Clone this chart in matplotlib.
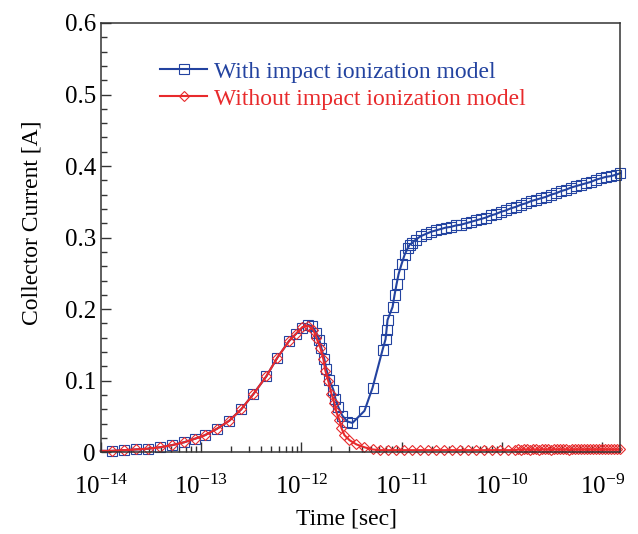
"""
Collector current transient, with and without the impact ionization model.
"""
import numpy as np
import matplotlib
matplotlib.use("Agg")
import matplotlib.pyplot as plt
import matplotlib.ticker as mticker

plt.rcParams["font.family"] = ["Liberation Serif", "DejaVu Serif"]
plt.rcParams["mathtext.fontset"] = "stix"

BLUE = "#2343a0"
RED = "#e82a2c"

# ── With impact ionization: log10(time [s]) and collector current [A] ─────────
with_log_t = [
    -14.00, -13.89, -13.77, -13.65, -13.53, -13.41, -13.29, -13.17, -13.06,
    -12.96, -12.84, -12.72, -12.60, -12.48, -12.35, -12.24, -12.12, -12.05,
    -11.99, -11.93, -11.89, -11.85, -11.82, -11.80, -11.77, -11.75, -11.72,
    -11.68, -11.66, -11.63, -11.59, -11.54, -11.49, -11.37, -11.29, -11.19,
    -11.16, -11.15, -11.14, -11.09, -11.07, -11.05, -11.03, -11.00, -10.97,
    -10.94, -10.92, -10.90,
    -10.86, -10.81, -10.76, -10.71, -10.66, -10.61, -10.56, -10.51, -10.46,
    -10.41, -10.36, -10.31, -10.26, -10.21, -10.16, -10.11, -10.06, -10.01,
    -9.96, -9.91, -9.86, -9.81, -9.76, -9.71, -9.66, -9.61, -9.56, -9.51,
    -9.46, -9.41, -9.36, -9.31, -9.26, -9.21, -9.16, -9.11, -9.06, -9.01,
    -8.96, -8.91, -8.86, -8.82,
]
with_current = [
    0.002, 0.002, 0.003, 0.004, 0.005, 0.007, 0.010, 0.014, 0.019,
    0.024, 0.033, 0.044, 0.060, 0.081, 0.106, 0.132, 0.156, 0.166,
    0.174, 0.178, 0.176, 0.167, 0.157, 0.146, 0.130, 0.116, 0.101,
    0.087, 0.075, 0.063, 0.051, 0.043, 0.041, 0.058, 0.090, 0.143,
    0.158, 0.171, 0.185, 0.203, 0.220, 0.235, 0.249, 0.263, 0.276,
    0.285, 0.290, 0.292,
    0.297, 0.302, 0.305, 0.308, 0.310, 0.312, 0.314, 0.315, 0.317,
    0.318, 0.320, 0.322, 0.324, 0.326, 0.328, 0.331, 0.333, 0.336,
    0.338, 0.341, 0.343, 0.346, 0.348, 0.351, 0.353, 0.355, 0.357, 0.360,
    0.362, 0.365, 0.367, 0.370, 0.372, 0.374, 0.376, 0.378, 0.381, 0.383,
    0.385, 0.386, 0.388, 0.390,
]

# ── Without impact ionization ─────────────────────────────────────────────────
without_log_t = [
    -14.00, -13.89, -13.77, -13.65, -13.53, -13.41, -13.29, -13.17, -13.06,
    -12.96, -12.84, -12.72, -12.60, -12.48, -12.35, -12.24, -12.12, -12.05,
    -11.99, -11.93, -11.88, -11.85, -11.81, -11.78, -11.76, -11.73, -11.70,
    -11.67, -11.65, -11.62, -11.60, -11.57, -11.52, -11.45, -11.37, -11.29,
    -11.22, -11.14, -11.06, -10.98, -10.90, -10.82, -10.74, -10.66, -10.58,
    -10.50, -10.42, -10.34, -10.26, -10.18, -10.10, -10.02, -9.94, -9.87,
    -9.84, -9.81, -9.78, -9.75, -9.72, -9.69, -9.66, -9.63, -9.60, -9.57,
    -9.54, -9.51, -9.48, -9.45, -9.42, -9.39, -9.36, -9.33, -9.30, -9.27,
    -9.24, -9.21, -9.18, -9.15, -9.12, -9.09, -9.06, -9.03, -9.00, -8.97,
    -8.94, -8.91, -8.88, -8.85, -8.82,
]
without_current = [
    0.002, 0.002, 0.003, 0.004, 0.005, 0.007, 0.010, 0.014, 0.019,
    0.024, 0.033, 0.044, 0.060, 0.081, 0.106, 0.132, 0.156, 0.166,
    0.175, 0.177, 0.171, 0.160, 0.146, 0.130, 0.114, 0.099, 0.082,
    0.069, 0.056, 0.045, 0.034, 0.024, 0.017, 0.011, 0.007, 0.004,
    0.003, 0.003, 0.003, 0.003, 0.003, 0.003, 0.003, 0.003, 0.003,
    0.003, 0.003, 0.003, 0.003, 0.003, 0.003, 0.003, 0.003, 0.003,
    0.004, 0.003, 0.004, 0.004, 0.003, 0.004, 0.004, 0.003, 0.004, 0.004,
    0.004, 0.003, 0.004, 0.004, 0.004, 0.004, 0.004, 0.003, 0.004, 0.004,
    0.004, 0.004, 0.004, 0.004, 0.004, 0.004, 0.004, 0.004, 0.004, 0.004,
    0.004, 0.004, 0.004, 0.004, 0.004,
]

X_LIMITS_LOG = (-14.0, -8.82)
X_DECADES = [-14, -13, -12, -11, -10, -9]
Y_TICKS = [0, 0.1, 0.2, 0.3, 0.4, 0.5, 0.6]
Y_TICK_LABELS = ["0", "0.1", "0.2", "0.3", "0.4", "0.5", "0.6"]


def main():
    fig = plt.figure(figsize=(6.38, 5.34), dpi=100)
    ax = fig.add_axes([0.158, 0.153, 0.814, 0.804])

    t_with = 10.0 ** np.array(with_log_t)
    t_without = 10.0 ** np.array(without_log_t)

    ax.plot(t_with, with_current, color=BLUE, linewidth=1.5,
            marker="s", markersize=7.3, markerfacecolor="none",
            markeredgecolor=BLUE, markeredgewidth=0.8, markevery=slice(1, None),
            clip_on=False, label="With impact ionization model")
    ax.plot(t_without, without_current, color=RED, linewidth=1.5,
            marker="D", markersize=5.2, markerfacecolor="none",
            markeredgecolor=RED, markeredgewidth=0.8, markevery=slice(1, None),
            clip_on=False, label="Without impact ionization model")

    ax.set_xscale("log")
    ax.set_xlim(10.0 ** X_LIMITS_LOG[0], 10.0 ** X_LIMITS_LOG[1])
    ax.set_ylim(0, 0.6)
    ax.set_yticks(Y_TICKS)
    ax.set_yticklabels(Y_TICK_LABELS)
    ax.yaxis.set_minor_locator(mticker.MultipleLocator(0.02))
    ax.xaxis.set_major_locator(mticker.FixedLocator(10.0 ** np.array(X_DECADES, dtype=float)))
    ax.xaxis.set_major_formatter(mticker.LogFormatterMathtext())
    ax.xaxis.set_minor_locator(mticker.LogLocator(base=10, subs=np.arange(2, 10), numticks=10))
    ax.xaxis.set_minor_formatter(mticker.NullFormatter())

    ax.tick_params(which="both", direction="in", top=False, right=False,
                   labelsize=18, width=1.0, color="#333333")
    ax.tick_params(which="major", length=7)
    ax.tick_params(which="minor", length=4)
    ax.tick_params(axis="x", which="major", pad=16)
    for spine in ax.spines.values():
        spine.set_linewidth(1.1)
        spine.set_color("#333333")

    ax.set_xlabel("Time [sec]", fontsize=17)
    ax.xaxis.set_label_coords(0.474, -0.13)
    ax.set_ylabel("Collector Current [A]", fontsize=17)
    ax.yaxis.set_label_coords(-0.113, 0.535)

    ax.legend(loc="upper left", bbox_to_anchor=(0.114, 0.911), frameon=False,
              fontsize=17, numpoints=1, handlelength=2.0, handletextpad=0.3,
              labelspacing=0.23, borderpad=0, borderaxespad=0,
              labelcolor="linecolor")

    fig.savefig("out.png", dpi=100)
    plt.close(fig)


if __name__ == "__main__":
    main()
